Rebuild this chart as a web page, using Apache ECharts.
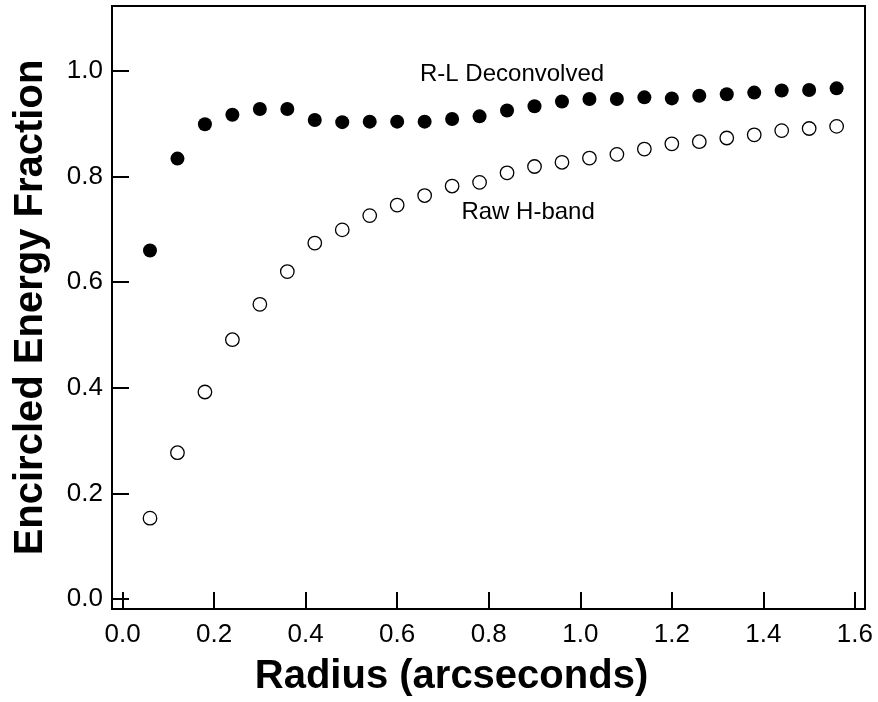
<!DOCTYPE html>
<html>
<head>
<meta charset="utf-8">
<script src="https://cdn.jsdelivr.net/npm/echarts@6/dist/echarts.min.js"></script>
<style>html,body{margin:0;padding:0;background:#fff;}#c{width:878px;height:702px;}</style>
</head>
<body>
<div id="c"></div>
<script>
const radius = [0.06,0.12,0.18,0.24,0.30,0.36,0.42,0.48,0.54,0.60,0.66,0.72,0.78,0.84,0.90,0.96,1.02,1.08,1.14,1.20,1.26,1.32,1.38,1.44,1.50,1.56];
const deconvolved = [0.660,0.834,0.899,0.917,0.928,0.928,0.907,0.903,0.904,0.904,0.904,0.909,0.914,0.925,0.933,0.942,0.947,0.947,0.950,0.948,0.953,0.956,0.959,0.963,0.964,0.967];
const rawHband = [0.153,0.277,0.392,0.491,0.558,0.620,0.674,0.699,0.726,0.746,0.764,0.782,0.789,0.807,0.819,0.827,0.835,0.842,0.852,0.862,0.866,0.873,0.879,0.887,0.891,0.895];
const xTicks = [0,0.2,0.4,0.6,0.8,1.0,1.2,1.4,1.6];
const yTicks = [0,0.2,0.4,0.6,0.8,1.0];
const annotations = [
  {text:'R-L Deconvolved', x:0.851, y:0.994},
  {text:'Raw H-band', x:0.886, y:0.732}
];

const chart = echarts.init(document.getElementById('c'), null, {renderer:'canvas'});
const FONT = 'Liberation Sans, Arial, Helvetica, sans-serif';
const option = {
  animation:false,
  backgroundColor:'#fff',
  grid:{left:112,right:13,top:6,bottom:91,show:true,borderColor:'#000',borderWidth:2,backgroundColor:'transparent'},
  xAxis:{
    type:'value',min:-0.023,max:1.622,
    name:'Radius (arcseconds)',nameLocation:'middle',nameGap:48,
    nameTextStyle:{fontFamily:FONT,fontWeight:'bold',fontSize:40,color:'#000',padding:[0,74,0,0]},
    axisLine:{show:true,onZero:false,lineStyle:{color:'#000',width:2}},
    axisTick:{show:true,inside:true,length:17,lineStyle:{color:'#000',width:2},customValues:xTicks},
    axisLabel:{show:true,margin:13,fontFamily:FONT,fontSize:26,color:'#000',customValues:xTicks,formatter:v=>v.toFixed(1)},
    splitLine:{show:false}
  },
  yAxis:{
    type:'value',min:-0.019,max:1.123,
    name:'Encircled Energy Fraction',nameLocation:'middle',nameGap:61,nameRotate:90,
    nameTextStyle:{fontFamily:FONT,fontWeight:'bold',fontSize:40,color:'#000'},
    axisLine:{show:true,onZero:false,lineStyle:{color:'#000',width:2}},
    axisTick:{show:true,inside:true,length:17,lineStyle:{color:'#000',width:2},customValues:yTicks},
    axisLabel:{show:true,margin:9,fontFamily:FONT,fontSize:26,color:'#000',customValues:yTicks,formatter:v=>v.toFixed(1)},
    splitLine:{show:false}
  },
  series:[
    {type:'scatter',name:'R-L Deconvolved',symbol:'circle',symbolSize:14,
     itemStyle:{color:'#000',opacity:1},emphasis:{disabled:true},data:radius.map((r,i)=>[r,deconvolved[i]])},
    {type:'scatter',name:'Raw H-band',symbol:'circle',symbolSize:13.5,
     itemStyle:{color:'#fff',borderColor:'#000',borderWidth:1.3,opacity:1},emphasis:{disabled:true},data:radius.map((r,i)=>[r,rawHband[i]])}
  ]
};
chart.setOption(option);
const g = annotations.map(a=>{
  const p = chart.convertToPixel({gridIndex:0},[a.x,a.y]);
  return {type:'text',x:p[0],y:p[1],style:{text:a.text,fontFamily:FONT,fontSize:24,fill:'#000',align:'center',verticalAlign:'middle'}};
});
chart.setOption({graphic:g});
</script>
</body>
</html>
